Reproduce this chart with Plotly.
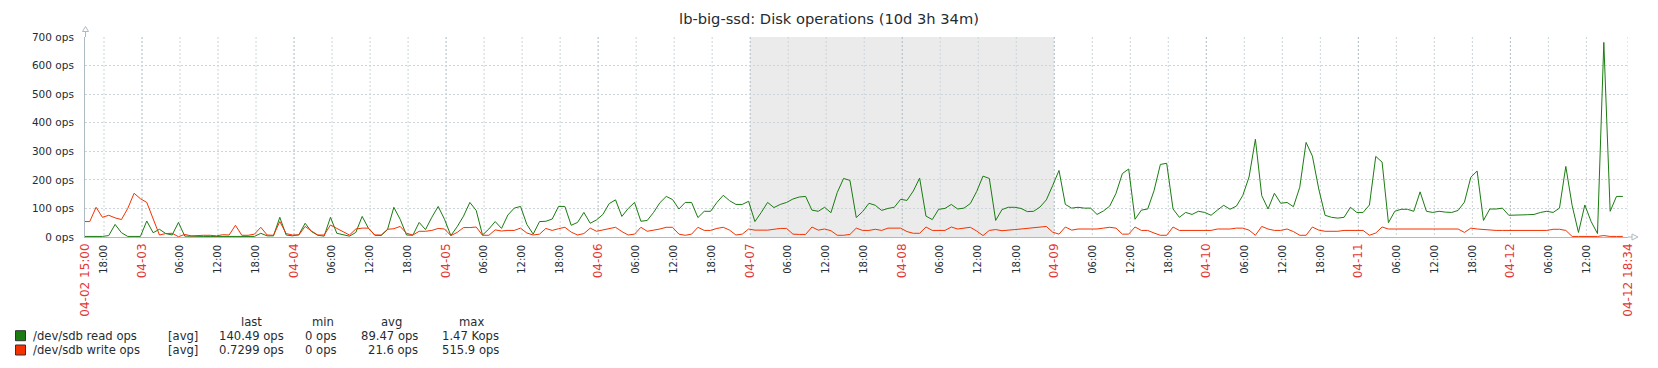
import plotly.graph_objects as go
import pandas as pd

# ---------------- data ----------------
START = "2024-04-02 15:00"
END = "2024-04-12 18:34"
TITLE = "lb-big-ssd: Disk operations (10d 3h 34m)"

# hourly trend samples; first sample at START + 0.75 h, one per hour
first_sample_offset_h = 0.75

read_ops = [
    2, 2, 2, 5, 44, 15, 2, 2, 2, 56, 15, 27, 12, 7, 51, 3, 2, 2, 2, 2,
    2, 2, 2, 2, 2, 2, 2, 13, 4, 4, 69, 7, 4, 8, 48, 19, 6, 3, 69, 13,
    7, 3, 16, 72, 30, 6, 5, 26, 104, 62, 7, 6, 51, 26, 69, 107, 62, 5, 36, 73,
    121, 93, 7, 28, 54, 30, 77, 101, 107, 44, 10, 54, 55, 63, 107, 107, 41, 51, 86, 48,
    60, 79, 117, 130, 72, 100, 121, 55, 58, 86, 120, 142, 131, 98, 121, 121, 68, 90, 90, 121,
    146, 127, 114, 114, 125, 54, 86, 121, 103, 114, 121, 133, 140, 142, 94, 90, 104, 85, 156, 205,
    198, 68, 89, 118, 111, 93, 100, 104, 132, 128, 161, 206, 73, 61, 97, 100, 114, 98, 101, 117,
    159, 213, 205, 58, 96, 104, 104, 100, 89, 90, 105, 130, 180, 233, 114, 101, 104, 101, 101, 79,
    91, 108, 153, 222, 238, 62, 94, 98, 162, 254, 258, 98, 69, 86, 79, 90, 86, 76, 94, 111,
    97, 108, 145, 210, 342, 145, 98, 153, 118, 121, 106, 174, 331, 283, 168, 76, 69, 66, 69, 104,
    86, 86, 112, 282, 262, 50, 90, 97, 97, 90, 158, 90, 86, 90, 87, 86, 93, 122, 209, 231,
    58, 98, 98, 101, 76, 76, 76, 78, 79, 86, 90, 86, 101, 247, 110, 16, 112, 54, 12, 681,
    90, 142, 142,
]

write_ops = [
    54, 104, 69, 76, 67, 61, 100, 153, 134, 121, 65, 7, 12, 13, 1, 9, 4, 6, 6, 6,
    4, 8, 7, 41, 6, 6, 10, 34, 7, 6, 54, 12, 7, 7, 37, 21, 7, 7, 42, 30,
    19, 7, 28, 31, 31, 7, 7, 27, 29, 37, 13, 7, 20, 20, 23, 30, 28, 5, 16, 33,
    33, 35, 6, 6, 25, 21, 23, 23, 31, 14, 7, 10, 30, 23, 29, 34, 17, 7, 12, 31,
    20, 24, 28, 34, 19, 7, 10, 34, 20, 23, 28, 34, 34, 10, 6, 10, 34, 23, 23, 30,
    34, 24, 7, 10, 28, 24, 24, 24, 27, 30, 30, 10, 9, 9, 35, 24, 28, 22, 6, 6,
    9, 31, 23, 23, 27, 23, 31, 31, 31, 19, 13, 13, 35, 23, 23, 23, 35, 28, 31, 34,
    21, 5, 23, 26, 22, 23, 26, 28, 30, 31, 34, 37, 17, 10, 35, 24, 28, 28, 28, 28,
    31, 34, 31, 10, 10, 35, 23, 23, 14, 6, 6, 35, 23, 23, 23, 23, 23, 23, 28, 28,
    28, 31, 31, 24, 6, 37, 28, 23, 23, 28, 19, 6, 6, 35, 24, 20, 20, 20, 23, 23,
    23, 23, 6, 14, 35, 28, 28, 28, 28, 28, 28, 28, 28, 28, 28, 28, 28, 16, 31, 28,
    26, 23, 23, 23, 23, 23, 23, 23, 23, 23, 23, 27, 27, 23, 2, 2, 2, 2, 2, 5,
    2, 2, 2,
]

series_names = ["/dev/sdb read ops", "/dev/sdb write ops"]
series_colors = ["#1A7C11", "#F63100"]
legend_func = ["[avg]", "[avg]"]
legend_cols = ["last", "min", "avg", "max"]
legend_last = ["140.49 ops", "0.7299 ops"]
legend_min = ["0 ops", "0 ops"]
legend_avg = ["89.47 ops", "21.6 ops"]
legend_max = ["1.47 Kops", "515.9 ops"]

y_tick_values = [0, 100, 200, 300, 400, 500, 600, 700]
y_tick_labels = ["0 ops", "100 ops", "200 ops", "300 ops", "400 ops", "500 ops", "600 ops", "700 ops"]

nonwork_start = "2024-04-07 00:00"
nonwork_end = "2024-04-09 00:00"

# ---------------- styling ----------------
W, H = 1658, 368
ML, MR, MT, MB = 85, 30, 37, 131
PW, PH = W - ML - MR, H - MT - MB
TEXT = "#1F2C33"
HIGHLIGHT = "#E33734"
GRID = "#CCD5D9"
MAINGRID = "#ACBBC2"
NONWORK = "#EBEBEB"
FONT = "DejaVu Sans"
DASH = "2px,2px"
HOUR_FONT = 10
DATE_FONT = 12
LEG_SIZE = 11.6


def px(x):
    return (x - ML) / PW


def py(y):
    return (H - MB - y) / PH


start_ts = pd.Timestamp(START)
end_ts = pd.Timestamp(END)
sample_times = [start_ts] + [start_ts + pd.Timedelta(hours=first_sample_offset_h + k) for k in range(len(read_ops))]
read_y = [read_ops[0]] + read_ops
write_y = [write_ops[0]] + write_ops

# x ticks: hours every 6h (black, small) and day boundaries / ends (red, larger)
six_hourly = list(pd.date_range("2024-04-02 18:00", "2024-04-12 12:00", freq="6h"))
hour_ticks = [t for t in six_hourly if t.hour != 0]
hour_text = [f"{t:%H:%M}" for t in hour_ticks]
day_ticks = [t for t in six_hourly if t.hour == 0]
date_ticks = [start_ts] + day_ticks + [end_ts]
date_text = [f"{start_ts:%m-%d %H:%M}"] + [f"{t:%m-%d}" for t in day_ticks] + [f"{end_ts:%m-%d %H:%M}"]

fig = go.Figure()
for name, ys, col in zip(series_names, [read_y, write_y], series_colors):
    fig.add_trace(go.Scatter(x=sample_times, y=ys, mode="lines", name=name, xaxis="x", yaxis="y",
                             line=dict(color=col, width=1), hoverinfo="skip", showlegend=False))
# empty trace so that the date-label axis is instantiated
fig.add_trace(go.Scatter(x=[], y=[], xaxis="x2", yaxis="y", showlegend=False, hoverinfo="skip"))

shapes = []
# non-working time shading
shapes.append(dict(type="rect", xref="x", yref="paper", x0=nonwork_start, x1=nonwork_end, y0=0, y1=1,
                   fillcolor=NONWORK, line=dict(width=0), layer="below"))
# vertical grid lines (normal every 6h, main at day boundaries)
for t in hour_ticks + [end_ts]:
    shapes.append(dict(type="line", xref="x", yref="paper", x0=t, x1=t, y0=1, y1=0,
                       line=dict(color=GRID, width=1, dash=DASH), layer="between"))
for t in day_ticks:
    shapes.append(dict(type="line", xref="x", yref="paper", x0=t, x1=t, y0=1, y1=0,
                       line=dict(color=MAINGRID, width=1, dash=DASH), layer="between"))
# axis extensions and arrows
shapes.append(dict(type="line", xref="paper", yref="paper", x0=px(85.5), x1=px(85.5), y0=1, y1=py(31),
                   line=dict(color=MAINGRID, width=1)))
shapes.append(dict(type="path", xref="paper", yref="paper",
                   path=f"M {px(82.5)} {py(31.5)} L {px(85.5)} {py(26.5)} L {px(88.5)} {py(31.5)} Z",
                   fillcolor="white", line=dict(color=MAINGRID, width=1)))
shapes.append(dict(type="line", xref="paper", yref="paper", x0=1, x1=px(1632), y0=0, y1=0,
                   line=dict(color=MAINGRID, width=1)))
shapes.append(dict(type="path", xref="paper", yref="paper",
                   path=f"M {px(1632)} {py(234)} L {px(1638)} {py(237)} L {px(1632)} {py(240)} Z",
                   fillcolor="white", line=dict(color=MAINGRID, width=1)))

annotations = []
row_y = [335.7, 350.0]
header_y = 321.7
col_right = [285.7, 339.0, 420.0, 501.0]
col_center = [251.7, 323.0, 391.0, 471.7]
for name, cx in zip(legend_cols, col_center):
    annotations.append(dict(xref="paper", yref="paper", x=px(cx), y=py(header_y), text=name,
                            showarrow=False, xanchor="center", yanchor="middle",
                            font=dict(family=FONT, size=LEG_SIZE, color=TEXT)))
for i in range(2):
    yy = py(row_y[i])
    shapes.append(dict(type="rect", xref="paper", yref="paper", x0=px(15.5), x1=px(25.5),
                       y0=py(row_y[i] - 5), y1=py(row_y[i] + 5),
                       fillcolor=series_colors[i], line=dict(color="#333333", width=1)))
    annotations.append(dict(xref="paper", yref="paper", x=px(31), y=yy, text=series_names[i],
                            showarrow=False, xanchor="left", yanchor="middle",
                            font=dict(family=FONT, size=LEG_SIZE, color=TEXT)))
    annotations.append(dict(xref="paper", yref="paper", x=px(165.7), y=yy, text=legend_func[i],
                            showarrow=False, xanchor="left", yanchor="middle",
                            font=dict(family=FONT, size=LEG_SIZE, color=TEXT)))
    for vals, rx in zip([legend_last, legend_min, legend_avg, legend_max], col_right):
        annotations.append(dict(xref="paper", yref="paper", x=px(rx), y=yy, text=vals[i],
                                showarrow=False, xanchor="right", yanchor="middle",
                                font=dict(family=FONT, size=LEG_SIZE, color=TEXT)))

fig.update_layout(
    width=W, height=H,
    margin=dict(l=ML, r=MR, t=MT, b=MB, pad=0),
    paper_bgcolor="white", plot_bgcolor="white",
    showlegend=False,
    font=dict(family=FONT, color=TEXT),
    title=dict(text=TITLE, x=0.5, xref="container", xanchor="center",
               y=1 - 19 / H, yref="container", yanchor="middle",
               font=dict(family=FONT, size=14.67, color=TEXT)),
    shapes=shapes,
    annotations=annotations,
    xaxis=dict(type="date", range=[start_ts, end_ts], tickmode="array", tickvals=hour_ticks,
               ticktext=hour_text, tickangle=-90, tickfont=dict(family=FONT, size=HOUR_FONT, color=TEXT),
               showgrid=False, showline=True, linecolor=MAINGRID, linewidth=1, zeroline=False,
               ticks="", ticklabelstandoff=3, fixedrange=True),
    xaxis2=dict(type="date", range=[start_ts, end_ts], overlaying="x", anchor="y", side="bottom",
                tickmode="array", tickvals=date_ticks, ticktext=date_text, tickangle=-90,
                tickfont=dict(family=FONT, size=DATE_FONT, color=HIGHLIGHT),
                showgrid=False, showline=False, zeroline=False, ticks="",
                ticklabelstandoff=3, fixedrange=True),
    yaxis=dict(range=[0, 700], tickmode="array", tickvals=y_tick_values, ticktext=y_tick_labels,
               tickfont=dict(family=FONT, size=10.5, color=TEXT),
               showgrid=True, gridcolor=GRID, gridwidth=1, griddash=DASH,
               showline=True, linecolor=MAINGRID, linewidth=1, zeroline=False, ticks="",
               ticklabelstandoff=8, fixedrange=True),
)

fig.write_html("out.html", config={"displayModeBar": False},
               post_script="document.body.style.margin='0';")
